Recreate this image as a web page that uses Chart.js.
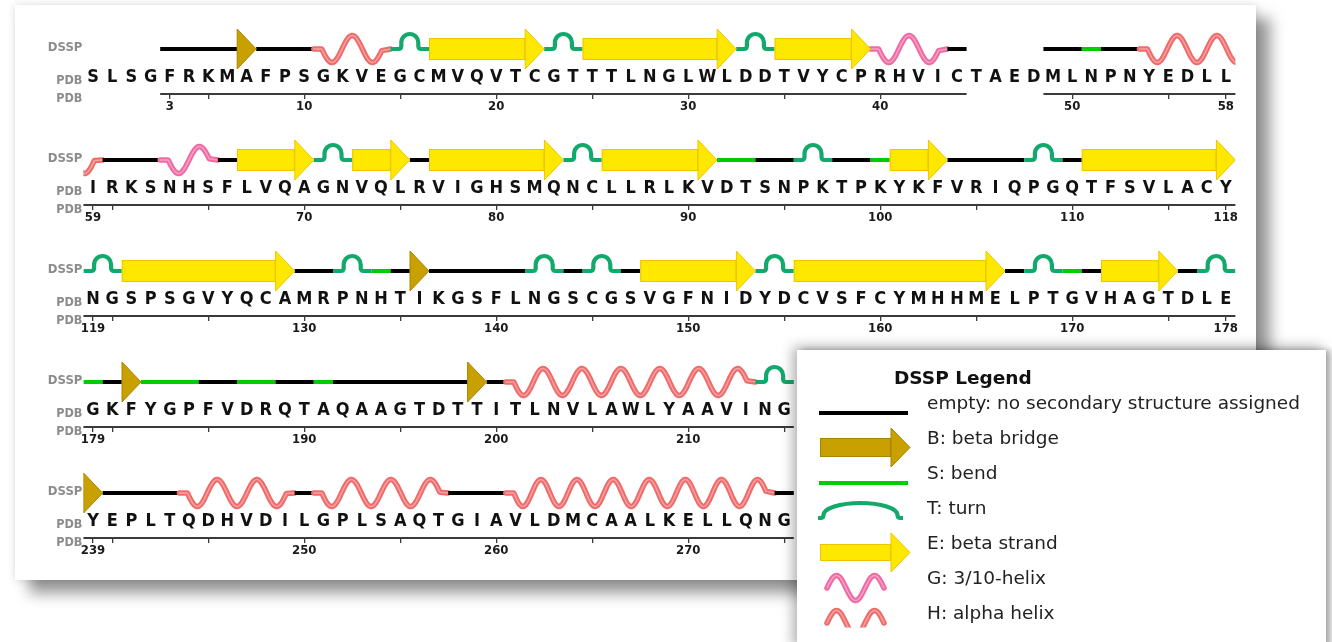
<!DOCTYPE html>
<html>
<head>
<meta charset="utf-8">
<script src="https://cdn.jsdelivr.net/npm/chart.js@4.4.1/dist/chart.umd.min.js"></script>
<style>
  html, body { margin: 0; padding: 0; background: #ffffff; width: 1332px; height: 642px; overflow: hidden; position: relative; }
  #card { position: absolute; left: 15px; top: 5px; width: 1241px; height: 575px; background: #ffffff;
          box-shadow: 14px 13px 14px rgba(0,0,0,0.42), 0 0 8px rgba(0,0,0,0.15); }
  canvas.row { position: absolute; left: 0; }
  #keyBox { position: absolute; left: 797px; top: 350px; width: 529px; height: 300px; background: #ffffff;
            box-shadow: -4px -3px 12px rgba(0,0,0,0.32), 5px 0 6px rgba(0,0,0,0.28); }
  #keyBox canvas { position: absolute; left: 0; top: 0; }
</style>
</head>
<body>
<div id="card"></div>
<canvas class="row" id="row0" width="1332" height="100"></canvas>
<canvas class="row" id="row1" width="1332" height="100"></canvas>
<canvas class="row" id="row2" width="1332" height="100"></canvas>
<canvas class="row" id="row3" width="1332" height="100"></canvas>
<canvas class="row" id="row4" width="1332" height="100"></canvas>
<div id="keyBox"><canvas id="key" width="529" height="292"></canvas></div>

<script>
// ---- sequence rows: first residue number of each row, one-letter sequence, DSSP code per residue
// DSSP codes: '-' coil, 'B' bridge, 'S' bend, 'T' turn, 'E' strand, 'G' 3/10 helix, 'H' alpha helix, '.' not modelled
const ROW_START = [-1, 59, 119, 179, 239];
const ROW_SEQ = [
  'SLSGFRKMAFPSGKVEGCMVQVTCGTTTLNGLWLDDTVYCPRHVICTAEDMLNPNYEDLL',
  'IRKSNHSFLVQAGNVQLRVIGHSMQNCLLRLKVDTSNPKTPKYKFVRIQPGQTFSVLACY',
  'NGSPSGVYQCAMRPNHTIKGSFLNGSCGSVGFNIDYDCVSFCYMHHMELPTGVHAGTDLE',
  'GKFYGPFVDRQTAQAAGTDTTITLNVLAWLYAAVING',
  'YEPLTQDHVDILGPLSAQTGIAVLDMCAALKELLQNG'
];
const ROW_DSSP = [
  '....----B---HHHHTTEEEEEETTEEEEEEEETTEEEEEGGGG-....--S--HHHHH',
  'H---GGG-EEEETTEEE-EEEEEEETTEEEEEESS--TT--SEEE----TT-EEEEEEEE',
  'TTEEEEEEEEE--TTS-B-----TT-TT-EEEEEETTEEEEEEEEEEE-TTS-EEEE-TT',
  'S-BSSS--SS--S-------B-HHHHHHHHHHHHHTT',
  'B----HHHHHH-HHHHHHH---HHHHHHHHHHHHHH-'
];
const KEY_CODES = ['-', 'B', 'S', 'T', 'E', 'G', 'H'];
const KEY_TEXT = [
  'empty: no secondary structure assigned',
  'B: beta bridge',
  'S: bend',
  'T: turn',
  'E: beta strand',
  'G: 3/10-helix',
  'H: alpha helix'
];
const KEY_TITLE = 'DSSP Legend';

const RESIDUES_PER_ROW = 60;
const ROW_BASE = 49, ROW_GAP = 111;   // DSSP track baseline of the first row, row pitch

// ---- glyph styles
const STYLE = {
  '-': { color: '#000000', width: 3.8 },
  'S': { color: '#00cc00', width: 3.8 },
  'T': { color: '#13a96c', width: 4.2 },
  'E': { fill: '#ffe800', edge: '#eec400' },
  'B': { fill: '#c8a000', edge: '#a88500' },
  'G': { color: '#ef6aa3', light: 'rgba(255,205,225,0.55)' },
  'H': { color: '#ef6b6b', light: 'rgba(255,205,205,0.55)' }
};
const CONDENSED = "'DejaVu Sans Condensed', 'DejaVu Sans', sans-serif";
const REGULAR = "'DejaVu Sans', sans-serif";

// ---- residue -> code map and secondary-structure segments (runs merge across row breaks)
const codeAt = new Map();
ROW_DSSP.forEach((s, r) => {
  for (let i = 0; i < s.length; i++) if (s[i] !== '.') codeAt.set(ROW_START[r] + i, s[i]);
});
const SEGMENTS = [];
[...codeAt.keys()].sort((a, b) => a - b).forEach(res => {
  const c = codeAt.get(res), last = SEGMENTS[SEGMENTS.length - 1];
  if (last && last.code === c && last.to === res - 1) last.to = res;
  else SEGMENTS.push({ code: c, from: res, to: res });
});

function presentRuns(r) {
  const runs = [], s = ROW_DSSP[r];
  for (let i = 0; i < s.length; i++) {
    if (s[i] === '.') continue;
    const v = ROW_START[r] + i, last = runs[runs.length - 1];
    if (last && last.to === v - 1) last.to = v; else runs.push({ from: v, to: v });
  }
  return runs;
}

function numberTicks(r) {
  const start = ROW_START[r], end = start + RESIDUES_PER_ROW - 1;
  const present = [];
  for (let i = 0; i < ROW_DSSP[r].length; i++) if (ROW_DSSP[r][i] !== '.') present.push(start + i);
  const first = present[0], last = present[present.length - 1];
  const set = new Set([first]);
  present.forEach(v => { if (v % 5 === 0) set.add(v); });
  if (last === end) set.add(last);
  const ends = last === end ? [first, last] : [first];
  return [...set].sort((a, b) => a - b).map(v => {
    let label = '';
    if (ends.includes(v)) label = String(v);
    else if (v % 10 === 0 && ends.every(e => Math.abs(e - v) >= 3)) label = String(v);
    return { value: v, label };
  });
}

// ---- glyph painters
function drawLine(ctx, x0, x1, y, st, w) {
  ctx.beginPath(); ctx.moveTo(x0, y); ctx.lineTo(x1, y);
  ctx.strokeStyle = st.color; ctx.lineWidth = w || st.width; ctx.lineCap = 'butt'; ctx.stroke();
}
function drawTurn(ctx, x0, x1, y, rx, ry, h, st) {
  const cx = (x0 + x1) / 2, f = 3, cy = y - h + ry;
  ctx.beginPath();
  ctx.moveTo(x0, y);
  ctx.lineTo(cx - rx - f, y);
  ctx.quadraticCurveTo(cx - rx, y, cx - rx, y - f);
  ctx.lineTo(cx - rx, cy);
  ctx.ellipse(cx, cy, rx, ry, 0, Math.PI, 2 * Math.PI);
  ctx.lineTo(cx + rx, y - f);
  ctx.quadraticCurveTo(cx + rx, y, cx + rx + f, y);
  ctx.lineTo(x1, y);
  ctx.strokeStyle = st.color; ctx.lineWidth = st.width; ctx.lineJoin = 'round'; ctx.stroke();
}
function drawArrow(ctx, x0, x1, y, bodyH, headH, headL, st) {
  const hx = Math.max(x0, x1 - headL);
  ctx.fillStyle = st.fill; ctx.strokeStyle = st.edge; ctx.lineWidth = 1; ctx.lineJoin = 'miter';
  if (hx > x0 + 0.5) {
    ctx.fillRect(x0, y - bodyH, hx - x0, 2 * bodyH);
    ctx.strokeRect(x0 + 0.5, y - bodyH + 0.5, hx - x0 - 1, 2 * bodyH - 1);
  }
  ctx.beginPath();
  ctx.moveTo(hx, y - headH); ctx.lineTo(x1, y); ctx.lineTo(hx, y + headH); ctx.closePath();
  ctx.fill(); ctx.stroke();
}
function wavePath(ctx, x0, x1, y, amp, halves, upFirst, lead) {
  const w0 = x0 + lead, w1 = x1 - lead, len = w1 - w0;
  const sign = upFirst ? -1 : 1;
  ctx.beginPath(); ctx.moveTo(x0, y); ctx.lineTo(w0, y);
  for (let p = 0; p <= len; p += 1) {
    ctx.lineTo(w0 + p, y + sign * amp * Math.sin(Math.PI * halves * p / len));
  }
  ctx.lineTo(x1, y);
}
function drawHelix(ctx, x0, x1, y, st, opts) {
  const o = Object.assign({ amp: 13.5, lead: 8, halfLen: 18, upFirst: false, halves: 0 }, opts || {});
  const halves = o.halves || Math.max(2, Math.floor((x1 - x0 - 2 * o.lead) / o.halfLen));
  ctx.lineCap = 'round'; ctx.lineJoin = 'round';
  wavePath(ctx, x0, x1, y, o.amp, halves, o.upFirst, o.lead);
  ctx.strokeStyle = st.color; ctx.lineWidth = 5.5; ctx.stroke();
  wavePath(ctx, x0, x1, y, o.amp, halves, o.upFirst, o.lead);
  ctx.strokeStyle = st.light; ctx.lineWidth = 1.5; ctx.stroke();
  ctx.lineCap = 'butt';
}

// ---- one Chart per sequence row
const trackPlugin = {
  id: 'dsspTrack',
  afterDraw(chart, args, opts) {
    const r = opts.row;
    const ctx = chart.ctx, xs = chart.scales.x, seq = chart.scales.seq, area = chart.chartArea;
    const base = chart.scales.y.getPixelForValue(0);
    const lo = ROW_START[r] - 0.5, hi = ROW_START[r] + RESIDUES_PER_ROW - 0.5;
    const px = v => xs.getPixelForValue(v);

    // side captions
    ctx.save();
    ctx.fillStyle = '#8c8c8c'; ctx.textAlign = 'right'; ctx.textBaseline = 'middle';
    ctx.font = `bold 13px ${CONDENSED}`;
    ctx.fillText('DSSP', area.left - 1, base - 1);
    ctx.font = `bold 12.5px ${CONDENSED}`;
    ctx.fillText('PDB', area.left - 1, (seq.top + xs.top) / 2 + 1);
    ctx.fillText('PDB', area.left - 1, xs.top + 5);
    ctx.restore();

    // numbering axis line over the modelled residues
    ctx.save();
    ctx.strokeStyle = '#3a3a3a'; ctx.lineWidth = 2;
    presentRuns(r).forEach(run => {
      ctx.beginPath();
      ctx.moveTo(px(run.from - 0.5), xs.top); ctx.lineTo(px(run.to + 0.5), xs.top); ctx.stroke();
    });
    ctx.restore();

    // secondary structure track
    ctx.save();
    ctx.beginPath(); ctx.rect(area.left, 0, area.width, chart.height); ctx.clip();
    const visible = SEGMENTS.filter(s => s.to + 0.5 > lo && s.from - 0.5 < hi);
    visible.filter(s => s.code !== 'E' && s.code !== 'B').forEach(s => {
      const x0 = px(s.from - 0.5), x1 = px(s.to + 0.5), st = STYLE[s.code];
      if (s.code === '-' || s.code === 'S') drawLine(ctx, x0, x1, base, st);
      else if (s.code === 'T') drawTurn(ctx, x0, x1, base, 8.5, 8.5, 15, st);
      else drawHelix(ctx, x0, x1, base, st);
    });
    visible.filter(s => s.code === 'E' || s.code === 'B').forEach(s => {
      drawArrow(ctx, px(s.from - 0.5), px(s.to + 0.5), base, 11, 20, 19, STYLE[s.code]);
    });
    ctx.restore();
  }
};

function buildRow(r) {
  const canvas = document.getElementById('row' + r);
  const base = ROW_BASE + ROW_GAP * r;
  canvas.style.top = (base - 28) + 'px';
  const start = ROW_START[r];
  const letters = ROW_SEQ[r];
  const nums = numberTicks(r);
  return new Chart(canvas, {
    type: 'scatter',
    data: { datasets: [] },
    options: {
      responsive: false,
      animation: false,
      events: [],
      layout: { padding: { left: 83.4, right: 96.6, top: 6, bottom: 0 } },
      plugins: { legend: { display: false }, tooltip: { enabled: false }, dsspTrack: { row: r } },
      scales: {
        y: { display: false, min: -16, max: 22 },
        seq: {
          type: 'linear', position: 'bottom', weight: 0,
          min: start - 0.5, max: start + RESIDUES_PER_ROW - 0.5,
          border: { display: false },
          grid: { display: false, drawTicks: false },
          ticks: {
            autoSkip: false, maxRotation: 0, minRotation: 0, padding: 2,
            color: '#111111', font: { family: CONDENSED, size: 18, weight: 'bold' },
            callback: v => letters[v - start] || ''
          },
          afterBuildTicks: s => { s.ticks = [...letters].map((ch, i) => ({ value: start + i })); },
          afterFit: s => { s.height = 29; s.paddingLeft = 0; s.paddingRight = 0; }
        },
        x: {
          type: 'linear', position: 'bottom', weight: 1,
          min: start - 0.5, max: start + RESIDUES_PER_ROW - 0.5,
          border: { display: false },
          grid: { drawOnChartArea: false, drawTicks: true, tickLength: 5, color: '#3a3a3a', lineWidth: 1.3 },
          ticks: {
            autoSkip: false, maxRotation: 0, minRotation: 0, padding: 0,
            color: '#1a1a1a', font: { family: CONDENSED, size: 13, weight: 'bold' },
            callback: (v) => { const t = nums.find(n => n.value === v); return t ? t.label : ''; }
          },
          afterBuildTicks: s => { s.ticks = nums.map(n => ({ value: n.value })); },
          afterFit: s => { s.height = 27; s.paddingLeft = 0; s.paddingRight = 0; }
        }
      }
    },
    plugins: [trackPlugin]
  });
}
for (let r = 0; r < ROW_START.length; r++) buildRow(r);

// ---- legend panel
const keyPlugin = {
  id: 'dsspKey',
  afterDraw(chart) {
    const ctx = chart.ctx;
    ctx.save();
    ctx.fillStyle = '#111111'; ctx.textBaseline = 'middle'; ctx.textAlign = 'left';
    ctx.font = `bold 18.5px ${REGULAR}`;
    ctx.fillText(KEY_TITLE, 97, 29);
    const ix0 = 23, ix1 = 112;
    KEY_CODES.forEach((code, i) => {
      const ty = 54 + 35 * i, gy = ty + 9, st = STYLE[code];
      ctx.fillStyle = '#222222'; ctx.font = `18.5px ${REGULAR}`;
      ctx.fillText(KEY_TEXT[i], 130, ty);
      if (code === '-' || code === 'S') drawLine(ctx, ix0 - 1, ix1 - 1, gy, st, 4);
      else if (code === 'T') drawTurn(ctx, ix0 - 2, ix1 - 6, gy, 37, 12, 15, st);
      else if (code === 'E') drawArrow(ctx, ix0, ix1 + 1, gy - 0.5, 8.5, 19.5, 19, st);
      else if (code === 'B') drawArrow(ctx, ix0, ix1 + 1, gy - 0.5, 9.5, 19.5, 19, st);
      else {
        ctx.save();
        ctx.beginPath(); ctx.rect(0, 0, chart.width, 277.5); ctx.clip();
        drawHelix(ctx, 30, 87, gy, st, { amp: 12.5, lead: 0, halves: 3, upFirst: true });
        ctx.restore();
      }
    });
    ctx.restore();
  }
};
new Chart(document.getElementById('key'), {
  type: 'scatter',
  data: { datasets: [] },
  options: {
    responsive: false, animation: false, events: [],
    plugins: { legend: { display: false }, tooltip: { enabled: false } },
    scales: { x: { display: false }, y: { display: false } }
  },
  plugins: [keyPlugin]
});
</script>
</body>
</html>
